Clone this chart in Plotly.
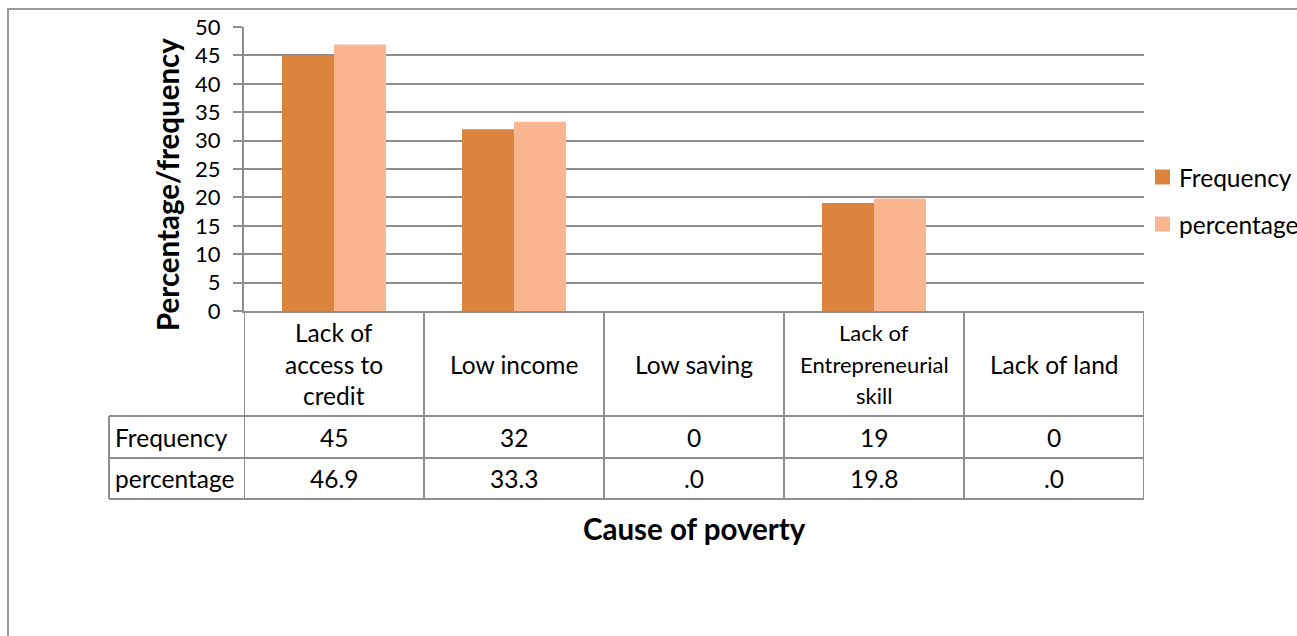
import plotly.graph_objects as go

# Causes of poverty, with frequency and percentage of respondents
categories = ["Lack of\naccess to\ncredit", "Low income", "Low saving",
              "Lack of\nEntrepreneurial\nskill", "Lack of land"]
frequency = [45, 32, 0, 19, 0]
percentage = [46.9, 33.3, 0.0, 19.8, 0.0]
series_names = ["Frequency", "percentage"]
series_colors = ["#DB843D", "#F8B58F"]
y_ticks = [0, 5, 10, 15, 20, 25, 30, 35, 40, 45, 50]

W, H = 1297, 636
PL, PR, PT, PB = 244, 1144, 27, 311   # plot area in pixels
GRID = "#8E8E8E"
FONT = "Lato"
TXT = "#000000"
BODY = 24.5


def xp(px):
    return (px - PL) / (PR - PL)


def yp(py):
    return (PB - py) / (PB - PT)


def fmt_pct(v):
    s = f"{v:.1f}"
    return s[1:] if s.startswith("0.") else s


keys = list(range(len(categories)))
fig = go.Figure()
for name, vals, col in zip(series_names, [frequency, percentage], series_colors):
    fig.add_trace(go.Bar(x=keys, y=vals, name=name, marker_color=col,
                         marker_line_width=0, showlegend=False))

shapes = []
ann = []

# outer chart border
shapes.append(dict(type="rect", xref="paper", yref="paper",
                   x0=xp(8), x1=xp(W + 20), y0=yp(9), y1=yp(H + 20),
                   line=dict(color="#9A9A9A", width=2), layer="below"))

# data table grid
row_tops = [416, 458, 499]
for py in row_tops:
    shapes.append(dict(type="line", xref="paper", yref="paper",
                       x0=xp(109), x1=1, y0=yp(py), y1=yp(py),
                       line=dict(color=GRID, width=2)))
shapes.append(dict(type="line", xref="paper", yref="paper",
                   x0=xp(109), x1=xp(109), y0=yp(416), y1=yp(499),
                   line=dict(color=GRID, width=2)))
for i in range(len(categories) + 1):
    shapes.append(dict(type="line", xref="x", yref="paper",
                       x0=i - 0.5, x1=i - 0.5, y0=0, y1=yp(499),
                       line=dict(color=GRID, width=2)))

# category header cells
line_gap = 31
for i, cat in enumerate(categories):
    lines = cat.split("\n")
    size = 22 if any(len(l) > 12 for l in lines) else BODY
    c = 364
    start = c - line_gap * (len(lines) - 1) / 2
    for k, l in enumerate(lines):
        ann.append(dict(x=i, xref="x", y=yp(start + k * line_gap), yref="paper",
                        text=l, showarrow=False, xanchor="center", yanchor="middle",
                        font=dict(size=size, family=FONT, color=TXT)))

# table rows: series name + values
row_centers = [437, 478]
row_values = [[str(v) for v in frequency], [fmt_pct(v) for v in percentage]]
for name, cy, vals in zip(series_names, row_centers, row_values):
    ann.append(dict(x=xp(113), xref="paper", y=yp(cy), yref="paper", text=name,
                    showarrow=False, xanchor="left", yanchor="middle",
                    font=dict(size=BODY, family=FONT, color=TXT)))
    for i, v in enumerate(vals):
        ann.append(dict(x=i, xref="x", y=yp(cy), yref="paper", text=v,
                        showarrow=False, xanchor="center", yanchor="middle",
                        font=dict(size=BODY, family=FONT, color=TXT)))

# legend
for name, col, cy in zip(series_names, series_colors, [177, 224]):
    shapes.append(dict(type="rect", xref="paper", yref="paper",
                       x0=xp(1155), x1=xp(1170), y0=yp(cy - 7.5), y1=yp(cy + 7.5),
                       fillcolor=col, line=dict(width=0)))
    ann.append(dict(x=xp(1177), xref="paper", y=yp(cy), yref="paper", text=name,
                    showarrow=False, xanchor="left", yanchor="middle",
                    font=dict(size=BODY, family=FONT, color=TXT)))

# axis titles
ann.append(dict(x=xp(168), xref="paper", y=yp(185), yref="paper",
                text="<b>Percentage/frequency</b>", textangle=-90, showarrow=False,
                xanchor="center", yanchor="middle",
                font=dict(size=29.5, family=FONT, color=TXT)))
ann.append(dict(x=xp(694), xref="paper", y=yp(528), yref="paper",
                text="<b>Cause of poverty</b>", showarrow=False,
                xanchor="center", yanchor="middle",
                font=dict(size=29.5, family=FONT, color=TXT)))

fig.update_layout(
    width=W, height=H,
    margin=dict(l=PL, r=W - PR, t=PT, b=H - PB, pad=0),
    paper_bgcolor="white", plot_bgcolor="white",
    barmode="group", bargap=0.422, bargroupgap=0,
    shapes=shapes, annotations=ann,
    xaxis=dict(range=[-0.5, len(categories) - 0.5], showticklabels=False,
               showgrid=False, zeroline=False, showline=True,
               linecolor=GRID, linewidth=2, ticks=""),
    yaxis=dict(range=[0, 50], tickvals=y_ticks, showgrid=True, gridcolor=GRID,
               gridwidth=2, zeroline=False, showline=True, linecolor=GRID,
               linewidth=2, ticks="outside", ticklen=9, tickwidth=2,
               tickcolor=GRID, ticklabelstandoff=8,
               tickfont=dict(size=22, family=FONT, color=TXT)),
)

fig.write_html("out.html")
